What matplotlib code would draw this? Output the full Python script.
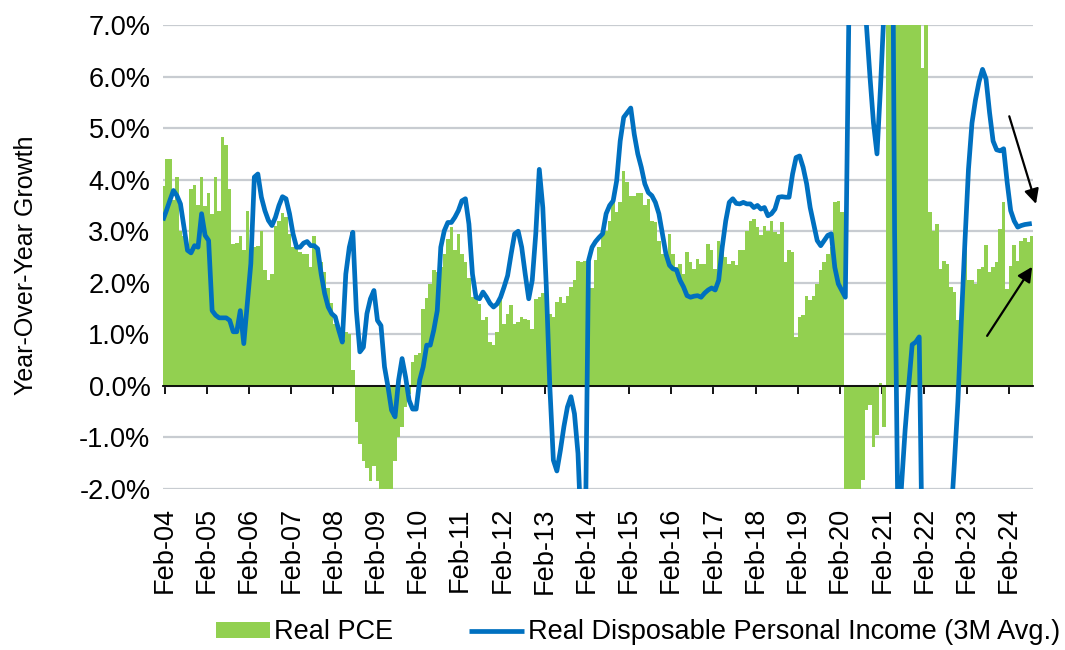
""" Real PCE vs. real disposable personal income, year-over-year growth.
"""

# ------------------------------------------------------------------------------
# Imports.
# ------------------------------------------------------------------------------

import numpy as np

import matplotlib
matplotlib.use("Agg")
from matplotlib import pyplot as plt

# ------------------------------------------------------------------------------
# Data (monthly, Jan-04 .. Aug-24, %).
# ------------------------------------------------------------------------------

real_pce = [
    3.87, 4.41, 4.41, 3.6, 4.06, 3.0, 2.9, 2.7, 3.82, 3.9, 3.51, 4.06,
    3.48, 3.74, 3.34, 4.06, 3.4, 4.83, 4.68, 3.82, 2.75, 2.78, 2.9, 2.63,
    3.4, 2.6, 2.7, 2.71, 3.01, 2.24, 2.06, 2.17, 3.1, 3.2, 3.35, 3.27,
    2.95, 2.7, 2.7, 2.6, 2.55, 2.55, 2.3, 2.9, 2.6, 2.4, 2.2, 1.9,
    1.6, 1.2, 1.1, 1.0, 1.05, 1.0, 0.3, -0.7, -1.12, -1.45, -1.6, -1.85,
    -1.55, -1.85, -2.2, -2.3, -2.2, -2.1, -1.45, -1.0, -0.8, -0.4, -0.15, 0.46,
    0.6, 0.63, 1.5, 1.7, 1.98, 2.24, 2.2, 2.3, 2.56, 2.85, 3.08, 2.63,
    2.95, 2.56, 2.4, 2.1, 1.72, 1.72, 1.59, 1.27, 1.34, 0.85, 0.79, 1.05,
    1.66, 1.2, 1.4, 1.56, 1.2, 1.24, 1.34, 1.3, 1.27, 1.11, 1.69, 1.72,
    1.8, 1.4, 1.4, 1.34, 1.63, 1.72, 1.6, 1.75, 1.92, 2.06, 2.43, 2.4,
    2.43, 1.46, 1.9, 2.45, 2.7, 2.9, 3.0, 3.2, 3.56, 3.37, 3.56, 4.17,
    3.95, 3.69, 3.69, 3.75, 3.75, 3.5, 3.63, 3.2, 3.17, 2.82, 2.56, 2.56,
    2.95, 2.56, 2.3, 2.37, 2.17, 2.6, 2.4, 2.27, 2.46, 2.37, 2.37, 2.75,
    2.63, 2.27, 2.82, 2.69, 2.5, 2.37, 2.43, 2.34, 2.63, 2.63, 3.01, 3.2,
    3.24, 3.08, 2.92, 3.1, 3.0, 3.2, 2.98, 2.95, 3.17, 2.4, 2.63, 2.6,
    0.95, 1.34, 1.37, 1.75, 1.66, 1.75, 1.98, 2.24, 2.4, 2.56, 2.7, 3.56,
    3.59, 3.37, -6.5, -17.0, -10.5, -5.5, -3.5, -1.83, -0.47, -0.37, -1.18, -0.95,
    0.05, -0.79, 11.5, 29.0, 16.0, 12.0, 9.5, 7.5, 8.5, 8.5, 7.5, 7.3,
    6.17, 7.5, 3.37, 3.01, 3.14, 2.27, 2.43, 2.37, 1.92, 1.82, 1.27, 1.66,
    2.85, 2.05, 2.05, 1.98, 2.27, 2.3, 2.74, 2.2, 2.3, 2.41, 3.05, 3.56,
    1.88, 2.32, 2.74, 2.43, 2.82, 2.87, 2.79, 2.9,
]

real_dpi_3m = [
    3.21, 3.4, 3.6, 3.79, 3.69, 3.53, 3.08, 2.63, 2.58, 2.72, 2.69, 3.34,
    2.92, 2.82, 1.46, 1.37, 1.32, 1.32, 1.32, 1.27, 1.05, 1.05, 1.46, 0.82,
    1.59, 2.37, 4.05, 4.11, 3.66, 3.4, 3.21, 3.11, 3.27, 3.5, 3.67, 3.63,
    3.34, 2.95, 2.69, 2.69, 2.77, 2.8, 2.72, 2.72, 2.66, 2.17, 1.79, 1.53,
    1.4, 1.34, 1.08, 0.85, 2.17, 2.69, 2.98, 1.46, 0.66, 0.75, 1.4, 1.69,
    1.85, 1.27, 1.17, 0.37, -0.02, -0.47, -0.6, 0.11, 0.53, 0.17, -0.28, -0.45,
    -0.45, 0.11, 0.37, 0.79, 0.79, 1.08, 1.46, 2.69, 3.01, 3.17, 3.17, 3.27,
    3.4, 3.59, 3.63, 3.14, 2.17, 1.72, 1.69, 1.82, 1.72, 1.6, 1.53, 1.59,
    1.72, 1.92, 2.14, 2.56, 2.95, 3.0, 2.69, 2.17, 1.69, 2.05, 2.95, 4.2,
    3.46, 1.92, -0.02, -1.44, -1.65, -1.25, -0.79, -0.41, -0.21, -0.54, -1.31, -3.0,
    -3.5, 2.43, 2.69, 2.8, 2.88, 2.95, 3.34, 3.5, 3.59, 3.98, 4.75, 5.21,
    5.3, 5.39, 4.88, 4.5, 4.24, 3.92, 3.75, 3.69, 3.56, 3.34, 2.95, 2.56,
    2.34, 2.27, 2.25, 2.05, 1.92, 1.75, 1.72, 1.74, 1.75, 1.72, 1.8, 1.86,
    1.9, 1.86, 2.05, 2.69, 3.2, 3.56, 3.63, 3.54, 3.53, 3.56, 3.53, 3.53,
    3.46, 3.5, 3.43, 3.46, 3.3, 3.34, 3.43, 3.66, 3.67, 3.66, 3.66, 4.11,
    4.43, 4.46, 4.24, 3.92, 3.46, 3.14, 2.82, 2.72, 2.82, 2.92, 2.95, 2.3,
    1.98, 1.85, 1.72, 7.2, 10.0, 11.0, 10.0, 8.5, 7.0, 6.0, 5.1, 4.5,
    5.8, 7.3, 12.0, 14.0, 3.0, -3.0, -1.9, -0.85, 0.0, 0.8, 0.85, 0.95,
    -4.0, -5.0, -6.0, -6.0, -5.5, -5.0, -4.5, -3.8, -2.6, -1.5, -0.3, 1.3,
    2.8, 4.2, 5.1, 5.55, 5.9, 6.14, 5.95, 5.3, 4.75, 4.58, 4.56, 4.6,
    3.95, 3.4, 3.2, 3.08, 3.11, 3.13, 3.14, 3.15,
]

tick_labels = ["Feb-%02d" % yy for yy in range(4, 25)]
y_ticks = [-2, -1, 0, 1, 2, 3, 4, 5, 6, 7]
y_tick_labels = ["%.1f%%" % v for v in y_ticks]

# ------------------------------------------------------------------------------
# Plot.
# ------------------------------------------------------------------------------

plt.rcParams["font.family"] = ["Liberation Sans", "DejaVu Sans"]
FONT_SIZE = 19.5

GREEN = "#92d050"
BLUE = "#0070c0"
GRID = "#c8ccd1"

months = np.arange(len(real_pce))
# Feb tick sits on the left edge of each Feb bar.
tick_pos = [1 + 12 * k - 0.5 for k in range(len(tick_labels))]

fig = plt.figure(figsize=(10.65, 6.5), dpi=100)
ax = fig.add_axes([0.153, 0.2477, 0.817, 0.7138])

bars = ax.bar(months, real_pce, width=1.0, color=GREEN, linewidth=0,
              label="Real PCE", zorder=1)
line, = ax.plot(months, real_dpi_3m, color=BLUE, lw=3.4,
                solid_joinstyle="round", solid_capstyle="butt",
                label="Real Disposable Personal Income (3M Avg.)", zorder=3)

ax.set_xlim(0.02, 247.36)
ax.set_ylim(-2, 7)

# Grid lines.
ax.set_yticks(y_ticks)
ax.set_yticklabels(y_tick_labels, fontsize=FONT_SIZE)
ax.yaxis.grid(True, color=GRID, lw=1.6)
ax.set_axisbelow(True)
ax.tick_params(axis="y", length=0, pad=9)

# Horizontal axis crosses at zero, labels sit at the bottom.
for side in ["top", "right", "left"]:
    ax.spines[side].set_visible(False)
ax.spines["bottom"].set_position(("data", 0))
ax.spines["bottom"].set_color("black")
ax.spines["bottom"].set_linewidth(1.3)
ax.spines["bottom"].set_zorder(2.5)
ax.set_xticks(tick_pos)
ax.tick_params(axis="x", direction="out", length=5.5, width=1.3,
               labelbottom=False)

sec = ax.secondary_xaxis("bottom")
sec.set_xticks(tick_pos)
sec.set_xticklabels(tick_labels, rotation=90, fontsize=FONT_SIZE)
sec.tick_params(length=0, pad=13)
sec.spines["bottom"].set_visible(False)

ax.set_ylabel("Year-Over-Year Growth", fontsize=18)
ax.yaxis.set_label_coords(-0.144, 0.483)

# Arrows pointing to the latest readings.
arrow = dict(arrowstyle="-|>", color="black", lw=1.6, mutation_scale=22,
             shrinkA=0, shrinkB=0)
ax.annotate("", xy=(248.2, 3.53), xytext=(240.6, 5.23),
            arrowprops=arrow, annotation_clip=False)
ax.annotate("", xy=(247.1, 2.31), xytext=(234.3, 0.97),
            arrowprops=arrow, annotation_clip=False)

fig.legend(handles=[bars, line], loc="lower center",
           bbox_to_anchor=(0.599, -0.018), ncol=2,
           frameon=False, fontsize=FONT_SIZE, handlelength=2.0,
           handleheight=0.55, handletextpad=0.15, columnspacing=2.8,
           borderpad=0.1)

plt.savefig("out.png", dpi=100)
